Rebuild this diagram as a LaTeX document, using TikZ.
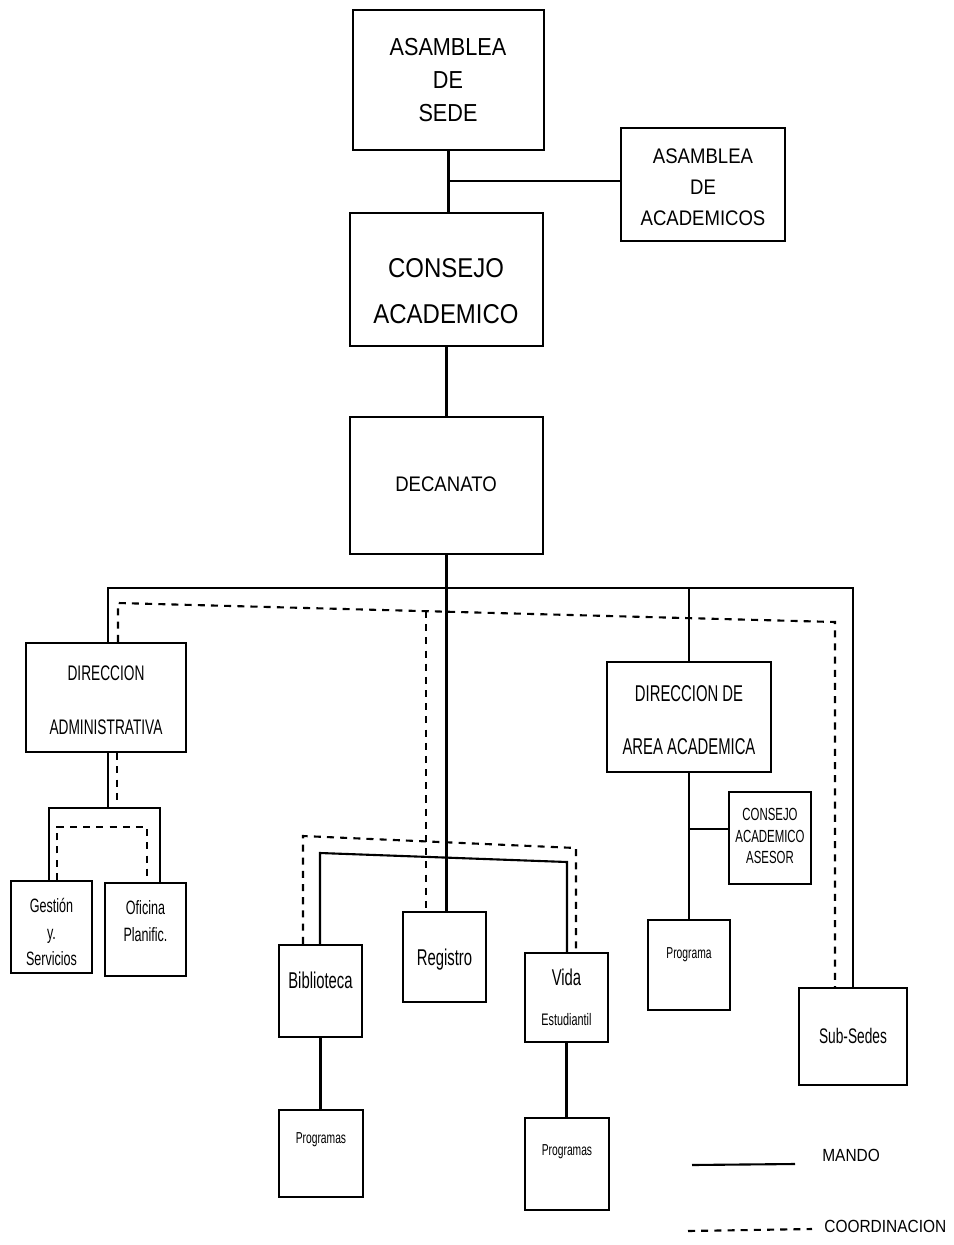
\documentclass[tikz,border=0pt]{standalone}
\usepackage{fontspec}
\setmainfont{Liberation Sans}
\newfontfamily\fA{Liberation Sans}[FakeStretch=0.88]
\newfontfamily\fB{Liberation Sans}[FakeStretch=0.65]
\begin{document}
\begin{tikzpicture}[x=0.02cm,y=-0.02cm,
  box/.style={draw, line width=1.4pt, inner sep=0pt, rectangle},
  lbl/.style={inner sep=0pt, align=center},
  solidline/.style={line width=1.2pt},
  coordline/.style={line width=1.2pt, dash pattern=on 4pt off 3.5pt}]
\useasboundingbox (0,0) rectangle (954,1245);

% boxes
\node[box, minimum width=3.82cm, minimum height=2.8cm]  (sede)     at (448.5,80) {};
\node[box, minimum width=3.28cm, minimum height=2.26cm] (acad)     at (703,184.5) {};
\node[box, minimum width=3.86cm, minimum height=2.66cm] (consejo)  at (446.5,279.5) {};
\node[box, minimum width=3.86cm, minimum height=2.74cm] (decanato) at (446.5,485.5) {};
\node[box, minimum width=3.2cm,  minimum height=2.18cm] (diradm)   at (106,697.5) {};
\node[box, minimum width=1.62cm, minimum height=1.84cm] (gestion)  at (51.5,927) {};
\node[box, minimum width=1.62cm, minimum height=1.86cm] (oficina)  at (145.5,929.5) {};
\node[box, minimum width=1.66cm, minimum height=1.84cm] (bib)      at (320.5,991) {};
\node[box, minimum width=1.66cm, minimum height=1.8cm]  (registro) at (444.5,957) {};
\node[box, minimum width=1.66cm, minimum height=1.78cm] (vida)     at (566.5,997.5) {};
\node[box, minimum width=1.68cm, minimum height=1.74cm] (prog1)    at (321,1153.5) {};
\node[box, minimum width=1.68cm, minimum height=1.84cm] (prog2)    at (567,1164) {};
\node[box, minimum width=3.28cm, minimum height=2.2cm]  (dirarea)  at (689,717) {};
\node[box, minimum width=1.64cm, minimum height=1.84cm] (asesor)   at (770,838) {};
\node[box, minimum width=1.64cm, minimum height=1.8cm]  (prog3)    at (689,965) {};
\node[box, minimum width=2.16cm, minimum height=1.94cm] (subsedes) at (853,1036.5) {};

% texts
\node[lbl, font={\fA\fontsize{14}{19}\selectfont}] (sede-t) at (448,80) {ASAMBLEA\\DE\\SEDE};
\node[lbl, font={\fA\fontsize{12}{17.5}\selectfont}] (acad-t) at (703,187) {ASAMBLEA\\DE\\ACADEMICOS};
\node[lbl, font={\fA\fontsize{15.5}{26}\selectfont}] (consejo-t) at (446,291) {CONSEJO\\ACADEMICO};
\node[lbl, font={\fA\fontsize{12}{14}\selectfont}] (decanato-t) at (446,484) {DECANATO};
\node[lbl, font={\fB\fontsize{12}{31}\selectfont}] (diradm-t) at (106,700) {DIRECCION\\ADMINISTRATIVA};
\node[lbl, font={\fB\fontsize{13}{30.5}\selectfont}] (dirarea-t) at (689,720) {DIRECCION DE\\AREA ACADEMICA};
\node[lbl, font={\fB\fontsize{10}{12}\selectfont}] (asesor-t) at (770,836) {CONSEJO\\ACADEMICO\\ASESOR};
\node[lbl, font={\fB\fontsize{11}{15}\selectfont}] (gestion-t) at (51.5,932) {Gestión\\y.\\Servicios};
\node[lbl, font={\fB\fontsize{11}{15}\selectfont}] (oficina-t) at (145.5,921) {Oficina\\Planific.};
\node[lbl, font={\fB\fontsize{13}{15}\selectfont}] (bib-t) at (320.5,980) {Biblioteca};
\node[lbl, font={\fB\fontsize{13}{15}\selectfont}] (registro-t) at (444.5,960) {Registro};
\node[lbl, font={\fB\fontsize{13}{15}\selectfont}] (vida-t1) at (566.5,977) {Vida};
\node[lbl, font={\fB\fontsize{9.5}{11}\selectfont}] (vida-t2) at (566.5,1020) {Estudiantil};
\node[lbl, font={\fB\fontsize{9}{11}\selectfont}] (prog1-t) at (321,1140) {Programas};
\node[lbl, font={\fB\fontsize{9}{11}\selectfont}] (prog2-t) at (567,1152) {Programas};
\node[lbl, font={\fB\fontsize{9}{11}\selectfont}] (prog3-t) at (689,955) {Programa};
\node[lbl, font={\fB\fontsize{12}{14}\selectfont}] (subsedes-t) at (853,1036) {Sub-Sedes};

% top connectors
\draw[solidline] (sede.south) -- (sede.south |- consejo.north);
\coordinate (j1) at (447,181);
\draw[solidline] (j1) -- (j1 -| acad.west);
\draw[solidline] (consejo.south) -- (consejo.south |- decanato.north);
\draw[solidline] (decanato.south) -- (decanato.south |- registro.north);

% main bus
\coordinate (bL) at (108,588);
\coordinate (bR) at (853,588);
\draw[solidline] (bL |- diradm.north) -- (bL) -- (bR) -- (subsedes.north);
\draw[solidline] (dirarea.north) -- (dirarea.north |- bL);

% coordination bus
\coordinate (dL) at (118,603);
\coordinate (dR) at (835,622);
\coordinate (dM) at (426,611);
\draw[coordline] (dL |- diradm.north) -- (dL) -- (dR) -- (dR |- subsedes.north);
\draw[coordline] (dM) -- (dM |- registro.north);

% administrative subtree
\coordinate (a1) at (108,808);
\coordinate (aL) at (49,808);
\coordinate (aR) at (160,808);
\draw[solidline] (a1 |- diradm.south) -- (a1);
\draw[solidline] (aL |- gestion.north) -- (aL) -- (aR) -- (aR |- oficina.north);
\coordinate (a2) at (117,805);
\draw[coordline] (a2 |- diradm.south) -- (a2);
\coordinate (cL) at (57,827);
\coordinate (cR) at (147,827);
\draw[coordline] (cL |- gestion.north) -- (cL) -- (cR) -- (cR |- oficina.north);

% library / student life subtree
\coordinate (rL) at (320,853);
\coordinate (rR) at (567,862);
\draw[solidline] (rL |- bib.north) -- (rL) -- (rR) -- (rR |- vida.north);
\coordinate (sL) at (303,836);
\coordinate (sR) at (576,848);
\draw[coordline] (sL |- bib.north) -- (sL) -- (sR) -- (sR |- vida.north);

% programs
\draw[solidline] (bib.south) -- (bib.south |- prog1.north);
\draw[solidline] (vida.south) -- (vida.south |- prog2.north);
\draw[solidline] (dirarea.south) -- (dirarea.south |- prog3.north);
\coordinate (j2) at (689,829);
\draw[solidline] (j2) -- (j2 -| asesor.west);

% legend
\coordinate (m1) at (692,1165);
\coordinate (m2) at (795,1164);
\draw[solidline] (m1) -- (m2);
\node[lbl, anchor=west, font={\fA\fontsize{10}{12}\selectfont}] (mando) at (822,1155) {MANDO};
\coordinate (c1) at (688,1231);
\coordinate (c2) at (812,1229);
\draw[coordline] (c1) -- (c2);
\node[lbl, anchor=west, font={\fA\fontsize{10}{12}\selectfont}] (coordinacion) at (824,1226) {COORDINACION};
\end{tikzpicture}
\end{document}
